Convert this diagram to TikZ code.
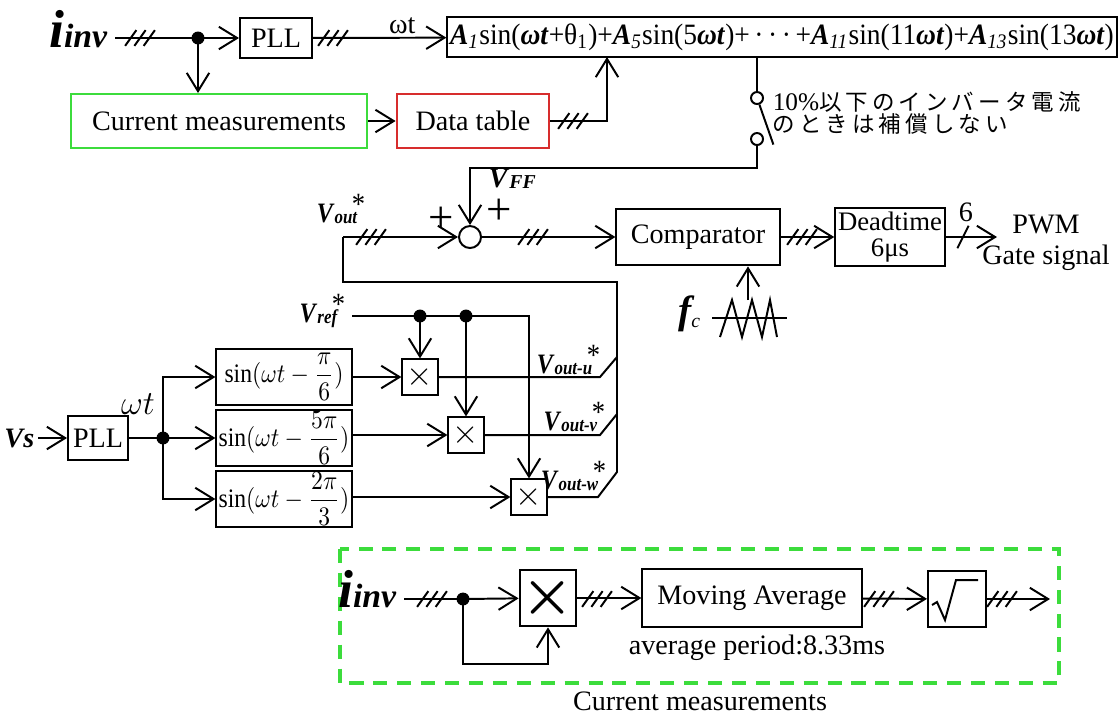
\documentclass[tikz,border=0pt]{standalone}
\usepackage{amsmath}
\usepackage{fontspec}
\setmainfont{Liberation Serif}
\newfontfamily\jpfont{Noto Sans CJK JP}[LetterSpace=18]
\usepackage{tikz}
\usetikzlibrary{arrows.meta, positioning}
\definecolor{Verde}{RGB}{60, 220, 60}
\definecolor{Rojo}{RGB}{215, 45, 45}

% etiquetas de señales
\newcommand{\iinv}{{\fontsize{19}{19}\selectfont\bfseries\itshape i}{\fontsize{12}{12}\selectfont\bfseries\itshape inv}}
\newcommand{\Vsig}[1]{\scalebox{0.86}[1]{\textbf{\textit{V}}\raisebox{-0.6pt}{\fontsize{7}{7}\selectfont\bfseries\itshape #1}\kern-2.2pt\raisebox{2.5pt}{\fontsize{11}{11}\selectfont *}}}
\newcommand{\Ak}[1]{\textbf{\textit{A}}\textsubscript{\textit{#1}}}
\newcommand{\wt}{\textbf{\textit{ωt}}}
\newcommand{\sinf}[2]{\scalebox{0.84}[0.95]{$\sin(\omega t-\dfrac{#1}{#2})$}}

\begin{document}
\begin{tikzpicture}[x=0.0125cm, y=-0.0125cm,
        font=\fontsize{10}{11}\selectfont, line width=0.7pt,
        block/.style={rectangle, draw, inner sep=1pt, align=center},
        mult/.style={rectangle, draw, minimum size=0.44cm, inner sep=0pt, font=\large},
        sumc/.style={circle, draw, minimum size=0.275cm, inner sep=0pt},
        swc/.style={circle, draw, minimum size=0.15cm, inner sep=0pt},
        lbl/.style={inner sep=1pt},
        arrow/.style={-{Straight Barb[length=6.5pt, width=8pt]}},
        tri/.pic={\foreach \k in {-1,0,1} \draw ({\k*3.3pt-2pt},-2.8pt) -- ({\k*3.3pt+2pt},2.8pt);},
        one/.pic={\draw (-2pt,-4pt) -- (2pt,4pt);}
    ]
        \useasboundingbox (0,0) rectangle (1120,715);

        % ================= PARTE SUPERIOR: COMPENSACION =================
        \node[lbl, anchor=base east] (iin) at (111,47) {\iinv};
        \coordinate (iin-o) at (115,38);
        \coordinate (d1) at (198,38);
        \node[block, minimum width=0.9cm, minimum height=0.51cm] (pll1) at (276,38) {PLL};
        \node[block, minimum width=8.2cm, minimum height=0.5cm, font=\fontsize{10.5}{12}\selectfont] (form) at (782,37)
            {\scalebox{0.93}[1]{\Ak{1}sin(\wt+θ\textsubscript{1})+\Ak{5}sin(5\wt)+\,·\,·\,·\,+\Ak{11}sin(11\wt)+\Ak{13}sin(13\wt)}};
        \node[block, draw=Verde, minimum width=3.7cm, minimum height=0.675cm] (cm) at (219,121) {Current measurements};
        \node[block, draw=Rojo, minimum width=1.91cm, minimum height=0.675cm] (dt) at (473,121) {Data table};
        \coordinate (fin) at (607,57);

        \draw (iin-o) -- (d1);
        \draw[arrow] (d1) -- (pll1);
        \draw[arrow] (pll1) -- node[lbl, above, pos=0.67] (wt1) {ωt} (form);
        \draw[arrow] (d1) -- (d1 |- cm.north);
        \draw[arrow] (cm) -- (dt);
        \draw[arrow] (dt.east) -| (fin);
        \fill (d1) circle (2.3pt);
        \pic at (140,38) {tri};
        \pic at (333,38) {tri};
        \pic at (573,121) {tri};

        % interruptor
        \node[swc] (sw1) at (757,98) {};
        \node[swc] (sw2) at (757,139) {};
        \draw (form.south -| sw1) -- (sw1.north);
        \draw (sw1.-70) -- ++(14,40);
        \node[lbl, anchor=north west, align=left, font=\fontsize{8}{7.8}\selectfont] (nota) at (769,88)
            {{\fontsize{9}{9}\selectfont 10\%}{\jpfont 以下のインバータ電流}\\{\jpfont のときは補償しない}};

        % ================= SUMADOR Y COMPARADOR =================
        \node[sumc] (sum) at (470,237) {};
        \coordinate (ffc) at (470,168);
        \coordinate (vin) at (343,237);
        \node[lbl, anchor=base west] (vff) at (485,187) {\textbf{\textit{V}}\raisebox{-0.6pt}{\fontsize{7}{7}\selectfont\bfseries\itshape FF}};
        \node[lbl, font=\fontsize{16}{16}\selectfont] (p1) at (499,212) {+};
        \node[lbl, font=\fontsize{16}{16}\selectfont] (p2) at (441,220) {+};
        \node[lbl, anchor=base west] (vout) at (313,222) {\Vsig{out}};
        \node[block, minimum width=2.04cm, minimum height=0.71cm] (comp) at (698,237) {Comparator};
        \node[block, minimum width=1.36cm, minimum height=0.72cm, font=\fontsize{9.5}{9}\selectfont] (dead) at (890,237) {Deadtime\\6μs};
        \coordinate (pwm) at (997,237);
        \node[lbl, align=center] (gate) at (1046,243) {PWM\\Gate signal};

        \draw[arrow] (sw2.south) |- (ffc) -- (sum.north);
        \draw[arrow] (vin) -- (sum.west);
        \draw[arrow] (sum.east) -- (comp.west);
        \draw[arrow] (comp) -- (dead);
        \draw[arrow] (dead) -- (pwm);
        \pic at (371,237) {tri};
        \pic at (533,237) {tri};
        \pic at (802,237) {tri};
        \pic at (963,237) {one};
        \node[lbl] (seis) at (966,212) {6};

        % portadora triangular
        \coordinate (fcw) at (748,300);
        \node[lbl] (fc) at (690,314) {{\fontsize{14}{14}\selectfont\bfseries\itshape f}\textsubscript{\textit{c}}};
        \draw (712,318) -- (787,318);
        \draw (720,337) -- (732,300) -- (742,337) -- (752,300) -- (762,337) -- (770,300) -- (777,337);
        \draw[arrow] (fcw) -- (fcw |- comp.south);

        % ================= PARTE INFERIOR: REFERENCIA TRIFASICA =================
        \node[lbl, anchor=base east] (vref) at (349,322) {\Vsig{ref}};
        \coordinate (vr) at (352,316);
        \coordinate (dv1) at (420,316);
        \coordinate (dv2) at (466,316);
        \node[lbl, anchor=east] (vs) at (38,438) {\textbf{\textit{Vs}}};
        \node[block, minimum width=0.75cm, minimum height=0.55cm] (pll2) at (98,438) {PLL};
        \coordinate (db) at (163,438);
        \node[lbl] (wt2) at (138,404) {\large$\omega t$};

        \node[block, minimum width=1.69cm, minimum height=0.69cm, inner sep=0pt] (s1) at (284,377) {\sinf{\pi}{6}};
        \node[block, minimum width=1.69cm, minimum height=0.69cm, inner sep=0pt] (s2) at (284,438) {\sinf{5\pi}{6}};
        \node[block, minimum width=1.69cm, minimum height=0.69cm, inner sep=0pt] (s3) at (284,499) {\sinf{2\pi}{3}};
        \node[mult] (m1) at (420,377) {$\times$};
        \node[mult] (m2) at (466,435) {$\times$};
        \node[mult] (m3) at (529,497) {$\times$};

        \draw (vr) -- (dv1) -- (dv2);
        \draw[arrow] (dv2) -| (m3);
        \draw[arrow] (dv1) -- (m1);
        \draw[arrow] (dv2) -- (m2);
        \fill (dv1) circle (2.3pt);
        \fill (dv2) circle (2.3pt);

        \draw[arrow] (vs) -- (pll2);
        \draw (pll2) -- (db);
        \draw[arrow] (db) |- (s1);
        \draw[arrow] (db) -- (s2);
        \draw[arrow] (db) |- (s3);
        \fill (db) circle (2.3pt);
        \draw[arrow] (s1) -- (m1);
        \draw[arrow] (s2.east |- m2) -- (m2);
        \draw[arrow] (s3.east |- m3) -- (m3);

        % salidas y bus de realimentacion
        \coordinate (ou) at (600,377);
        \coordinate (ov) at (600,435);
        \coordinate (ow) at (598,497);
        \coordinate (bu) at (617,357);
        \coordinate (bv) at (617,414);
        \coordinate (bw) at (617,472);
        \coordinate (bt) at (617,282);
        \draw (m1) -- (ou) -- (bu);
        \draw (m2) -- (ov) -- (bv);
        \draw (m3) -- (ow) -- (bw) -- (bt) -| (vin);
        \node[lbl, anchor=base east] (lu) at (604,373) {\Vsig{out-u}};
        \node[lbl, anchor=base east] (lv) at (609,430) {\Vsig{out-v}};
        \node[lbl, anchor=base east] (lw) at (610,489) {\Vsig{out-w}};

        % ================= MEDICION DE CORRIENTE =================
        \draw[Verde, dashed, line width=1.1pt, dash pattern=on 5pt off 3.5pt] (340,549) rectangle (1059,683);
        \node[lbl] (cap) at (700,701) {Current measurements};
        \node[lbl, anchor=base east] (iin2) at (400,607) {\iinv};
        \coordinate (i2o) at (404,599);
        \coordinate (d2) at (463,599);
        \coordinate (fb) at (548,664);
        \node[block, minimum size=0.71cm, inner sep=0pt] (mb) at (548,598) {\fontsize{22}{22}\selectfont$\boldsymbol{\times}$};
        \node[block, minimum width=2.74cm, minimum height=0.725cm] (ma) at (752,598) {Moving Average};
        \node[lbl] (per) at (757,648) {average period:8.33ms};
        \node[block, minimum width=0.725cm, minimum height=0.71cm] (sq) at (957,599) {};
        \draw ([shift={(-25,6)}]sq.center) -- ([shift={(-20,3)}]sq.center) -- ([shift={(-12,21)}]sq.center)
            -- ([shift={(-1,-19)}]sq.center) -- ([shift={(21,-19)}]sq.center);
        \coordinate (bo) at (1050,599);

        \draw (i2o) -- (d2);
        \draw[arrow] (d2) -- (mb);
        \draw[arrow] (d2) |- (fb) -- (mb.south);
        \fill (d2) circle (2.3pt);
        \draw[arrow] (mb) -- (ma);
        \draw[arrow] (ma) -- (sq);
        \draw[arrow] (sq) -- (bo);
        \pic at (432,599) {tri};
        \pic at (597,599) {tri};
        \pic at (879,599) {tri};
        \pic at (1002,599) {tri};
    \end{tikzpicture}
\end{document}
